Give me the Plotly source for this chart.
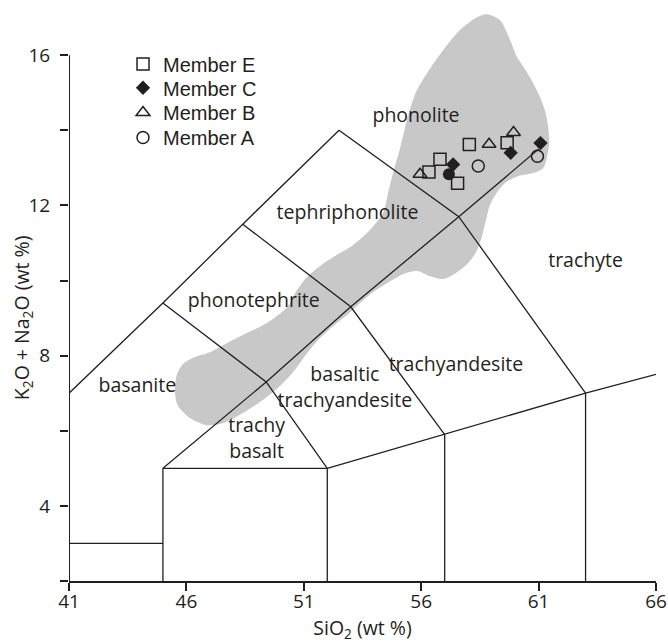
import plotly.graph_objects as go

# ---------------- data ----------------
# Member samples (SiO2 wt%, K2O+Na2O wt%)
member_e_si = [58.05, 59.66, 56.80, 56.33, 57.55]
member_e_alk = [13.62, 13.67, 13.23, 12.89, 12.59]
member_c_si = [57.36, 59.81, 61.08]
member_c_alk = [13.09, 13.40, 13.66]
member_b_si = [55.95, 58.89, 59.93]
member_b_alk = [12.83, 13.63, 13.94]
member_a_si = [58.43, 60.95]
member_a_alk = [13.05, 13.31]
member_a_solid_si = [57.18]
member_a_solid_alk = [12.83]

# grey field (outline)
field_si = [58.80, 59.36, 59.79, 60.08, 60.42, 60.77, 61.06, 61.28, 61.41, 61.45,
            61.36, 61.19, 60.77, 60.13, 59.61, 59.23, 58.93, 58.76, 58.59, 58.34,
            57.99, 57.48, 56.93, 56.37, 55.86, 55.22, 54.54, 53.90, 53.39, 52.84,
            52.20, 51.60, 51.05, 50.54, 49.98, 49.26, 48.40, 47.55, 46.87, 46.15,
            45.63, 45.51, 45.59, 45.85, 46.27, 47.00, 47.72, 48.57, 49.43, 50.28,
            50.71, 51.13, 51.81, 52.54, 53.05, 53.73, 54.37, 54.59, 54.80, 55.10,
            55.39, 55.78, 56.25, 56.93, 57.65, 58.38]
field_alk = [17.09, 16.93, 16.40, 15.95, 15.63, 15.25, 14.88, 14.51, 14.08, 13.66,
             13.29, 12.99, 12.86, 12.78, 12.62, 12.35, 12.01, 11.61, 11.18, 10.76,
             10.46, 10.20, 10.04, 10.12, 10.25, 10.17, 9.93, 9.67, 9.40, 9.08,
             8.76, 8.41, 7.99, 7.56, 7.19, 6.82, 6.47, 6.20, 6.15, 6.34,
             6.68, 7.08, 7.48, 7.78, 7.94, 8.09, 8.33, 8.60, 8.87, 9.29,
             9.75, 10.09, 10.44, 10.73, 10.92, 11.29, 11.79, 12.33, 12.86, 13.52,
             14.27, 15.02, 15.52, 16.13, 16.67, 17.01]

# TAS boundaries (polylines)
tas_lines = [
    ([41, 45], [3, 3]),
    ([45, 45], [2, 5]),
    ([45, 52], [5, 5]),
    ([52, 52], [2, 5]),
    ([52, 57, 63, 66], [5, 5.9, 7, 7.5]),
    ([57, 57], [2, 5.9]),
    ([63, 63], [2, 7]),
    ([45, 49.4, 53, 57.6, 61], [5, 7.3, 9.3, 11.7, 13.5]),
    ([41, 45, 48.4, 52.5], [7, 9.4, 11.5, 14]),
    ([52.5, 57.6, 63], [14, 11.7, 7]),
    ([45, 49.4, 52], [9.4, 7.3, 5]),
    ([48.4, 53, 57], [11.5, 9.3, 5.9]),
]

rock_names = ["phonolite", "tephriphonolite", "phonotephrite", "basanite",
              "trachy<br>basalt", "basaltic<br>trachyandesite", "trachyandesite", "trachyte"]
rock_si = [55.78, 52.86, 48.87, 43.91, 48.99, 52.75, 57.48, 63.0]
rock_alk = [14.36, 11.77, 9.43, 7.17, 5.75, 7.11, 7.72, 10.49]

x_ticks = [41, 46, 51, 56, 61, 66]
y_ticks = [4, 8, 12, 16]
y_minor_ticks = [2, 6, 10, 14]

legend_names = ["Member E", "Member C", "Member B", "Member A"]
legend_rows = [0.9427, 0.9011, 0.8576, 0.8137]

INK = "#231f20"
fig = go.Figure()

fig.add_trace(go.Scatter(x=field_si + [field_si[0]], y=field_alk + [field_alk[0]],
                         mode="lines", fill="toself", fillcolor="#c8c8c8",
                         line=dict(color="#c8c8c8", width=0, shape="spline", smoothing=0.8),
                         showlegend=False, hoverinfo="skip"))

lx, ly = [], []
for xs, ys in tas_lines:
    lx += xs + [None]
    ly += ys + [None]
fig.add_trace(go.Scatter(x=lx, y=ly, mode="lines", line=dict(color=INK, width=1.3),
                         showlegend=False, hoverinfo="skip"))

fig.add_trace(go.Scatter(x=rock_si, y=rock_alk, mode="text", text=rock_names,
                         textfont=dict(family="Open Sans", size=19.5, color=INK),
                         showlegend=False, hoverinfo="skip"))

mk_line = dict(color=INK, width=1.5)
fig.add_trace(go.Scatter(x=member_e_si, y=member_e_alk, mode="markers", name=legend_names[0],
                         legend="legend",
                         marker=dict(symbol="square-open", size=12, color=INK, line=mk_line)))
fig.add_trace(go.Scatter(x=member_c_si, y=member_c_alk, mode="markers", name=legend_names[1],
                         legend="legend2",
                         marker=dict(symbol="diamond", size=11, color=INK, line=dict(width=0))))
fig.add_trace(go.Scatter(x=member_b_si, y=member_b_alk, mode="markers", name=legend_names[2],
                         legend="legend3",
                         marker=dict(symbol="triangle-up-open", size=12, color=INK, line=mk_line)))
fig.add_trace(go.Scatter(x=member_a_si, y=member_a_alk, mode="markers", name=legend_names[3],
                         legend="legend4",
                         marker=dict(symbol="circle-open", size=12, color=INK, line=mk_line)))
fig.add_trace(go.Scatter(x=member_a_solid_si, y=member_a_solid_alk, mode="markers",
                         name=legend_names[3], showlegend=False,
                         marker=dict(symbol="circle", size=12, color=INK)))

fig.add_shape(type="line", xref="x", yref="y", x0=41, x1=41, y0=2, y1=16,
              line=dict(color=INK, width=2))

legend_font = dict(family="Liberation Sans", size=20, color=INK)
legends = {}
for i, yy in enumerate(legend_rows):
    key = "legend" if i == 0 else "legend%d" % (i + 1)
    legends[key] = dict(x=0.092, y=yy, xanchor="left", yanchor="top", font=legend_font,
                        bgcolor="rgba(0,0,0,0)", borderwidth=0)

tick_font = dict(family="Open Sans", size=19, color=INK)
title_font = dict(family="Open Sans", size=19.5, color=INK)

# y-axis title centred on the 2-16 span of the axis
fig.add_annotation(text="K<sub>2</sub>O + Na<sub>2</sub>O (wt %)", textangle=-90,
                   xref="paper", yref="y", x=-0.080, y=9, xanchor="center", yanchor="middle",
                   showarrow=False, font=title_font)

fig.update_layout(
    width=668, height=643,
    margin=dict(l=69, r=12, t=12, b=62),
    paper_bgcolor="white", plot_bgcolor="white",
    font=tick_font,
    xaxis=dict(range=[41, 66], tickvals=x_ticks, ticks="outside", ticklen=8, tickwidth=1.5,
               tickcolor=INK, showline=True, linewidth=2, linecolor=INK, showgrid=False,
               zeroline=False, tickfont=tick_font, automargin=False, ticklabelstandoff=-6,
               title=dict(text="SiO<sub>2</sub> (wt %)", font=title_font, standoff=8)),
    yaxis=dict(range=[2, 17.15], tickvals=y_ticks, ticks="outside",
               ticklen=8, tickwidth=1.5, tickcolor=INK, showline=False, showgrid=False,
               zeroline=False, tickfont=tick_font, automargin=False, ticklabelstandoff=6,
               minor=dict(tickvals=y_minor_ticks, ticks="outside", ticklen=8, tickwidth=1.5,
                          tickcolor=INK, showgrid=False)),
    **legends,
)

fig.write_html("out.html", config={"displayModeBar": False},
               post_script="document.body.style.margin='0';document.body.style.overflow='hidden';")
